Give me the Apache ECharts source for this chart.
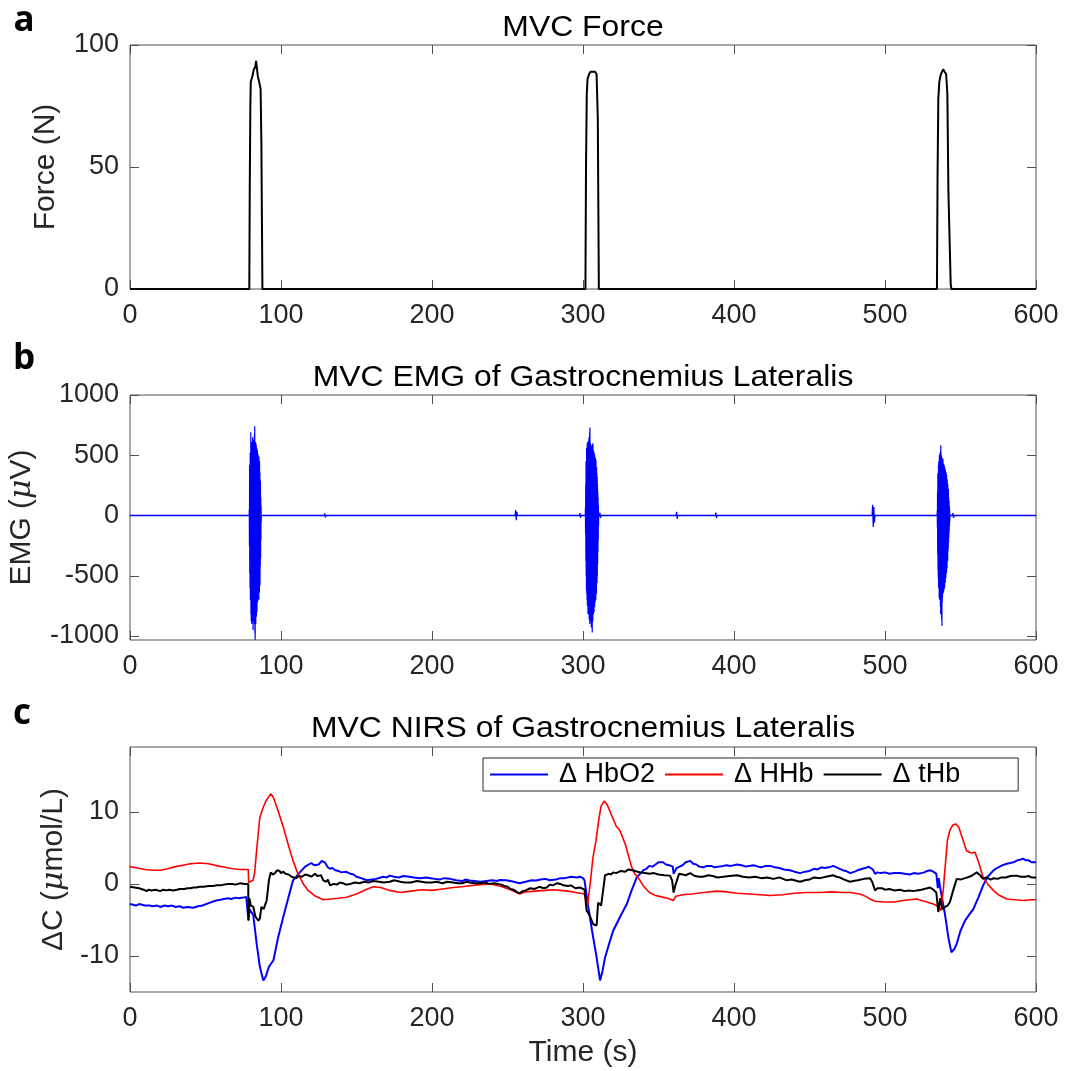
<!DOCTYPE html>
<html><head><meta charset="utf-8">
<script src="https://cdn.jsdelivr.net/npm/echarts@6/dist/echarts.min.js"></script>
<style>html,body{margin:0;padding:0;background:#fff}#c{width:1072px;height:1071px}</style>
</head><body><div id="c"></div>
<script>
// ---------- tick labels ----------
const xTicks = [0,100,200,300,400,500,600];
const forceTicks = [0,50,100];
const emgTicks = [-1000,-500,0,500,1000];
const nirsTicks = [-10,0,10];

// ---------- titles / names ----------
const panelTitles = ['MVC Force','MVC EMG of Gastrocnemius Lateralis','MVC NIRS of Gastrocnemius Lateralis'];
const panelLetters = ['a','b','c'];
const seriesNames = ['\u0394 HbO2','\u0394 HHb','\u0394 tHb'];

// ---------- force (N) : [time s, value] ----------
const forceData = [[0,0],[79,0],[79.3,40],[79.7,75],[80,85],[81,87],[82,90],[83,91],[83.5,93.5],[84.3,93],[84.7,87],[85.5,85],[86.5,82],[87,60],[87.7,0],
[301.6,0],[302,50],[302.5,80],[303,86],[304,88],[305,89],[308,89],[309,88],[309.8,70],[310.5,0],
[534.4,0],[534.8,45],[535.3,78],[536,85],[537,88],[538.5,90],[539.5,89.5],[540.5,88],[541.3,80],[542,40],[543.5,2],[544,0],[600,0]];

// ---------- EMG (uV) ----------
const emgBaseline = [[0,0],[600,0]];
const emgSpikes = [
  [[128.6,0],[129,18],[129.4,-15],[129.8,0]],
  [[255,0],[255.4,45],[255.8,-40],[256.2,30],[256.6,0]],
  [[297.6,0],[298,20],[298.4,-18],[298.8,0]],
  [[310.8,0],[311.2,25],[311.6,-20],[312,0]],
  [[361.6,0],[362,30],[362.4,-28],[362.8,0]],
  [[387.6,0],[388,25],[388.4,-20],[388.8,0]],
  [[491.4,0],[491.8,90],[492.2,-95],[492.6,70],[493,-60],[493.4,0]],
  [[544.6,0],[545,20],[545.4,-20],[545.8,0]]
];
const emgBurst1 = [[78.9,0],[79.0,50],[79.1,-250],[79.2,420],[79.3,-480],[79.4,300],[79.5,-600],[79.6,520],[79.7,-700],[79.8,450],[79.9,-560],[80.0,690],[80.1,-820],[80.2,560],[80.3,-880],[80.4,600],[80.5,-640],[80.6,480],[80.7,-900],[80.8,610],[80.9,-760],[81.0,560],[81.1,-870],[81.2,650],[81.3,-700],[81.4,520],[81.5,-950],[81.6,630],[81.7,-780],[81.8,590],[81.9,-880],[82.0,610],[82.1,-720],[82.2,540],[82.3,-860],[82.4,680],[82.5,-900],[82.6,740],[82.7,-980],[82.8,560],[82.9,-1030],[83.0,600],[83.1,-820],[83.2,610],[83.3,-900],[83.4,520],[83.5,-760],[83.6,590],[83.7,-840],[83.8,500],[83.9,-680],[84.0,560],[84.1,-800],[84.2,470],[84.3,-650],[84.4,540],[84.5,-720],[84.6,430],[84.7,-600],[84.8,510],[84.9,-690],[85.0,480],[85.1,-620],[85.2,420],[85.3,-700],[85.4,490],[85.5,-560],[85.6,380],[85.7,-640],[85.8,450],[85.9,-500],[86.0,360],[86.1,-580],[86.2,300],[86.3,-420],[86.4,280],[86.5,-350],[86.6,150],[86.7,-200],[86.8,80],[86.9,-60],[87.0,0]];
const emgBurst2 = [[301.5,0],[301.6,60],[301.7,-150],[301.8,260],[301.9,-380],[302.0,450],[302.1,-500],[302.2,380],[302.3,-620],[302.4,560],[302.5,-650],[302.6,470],[302.7,-700],[302.8,600],[302.9,-750],[303.0,520],[303.1,-680],[303.2,610],[303.3,-820],[303.4,540],[303.5,-760],[303.6,620],[303.7,-800],[303.8,560],[303.9,-720],[304.0,650],[304.1,-860],[304.2,580],[304.3,-780],[304.4,690],[304.5,-900],[304.6,730],[304.7,-820],[304.8,560],[304.9,-850],[305.0,600],[305.1,-780],[305.2,540],[305.3,-880],[305.4,580],[305.5,-930],[305.6,520],[305.7,-800],[305.8,560],[305.9,-900],[306.0,500],[306.1,-970],[306.2,590],[306.3,-820],[306.4,540],[306.5,-880],[306.6,600],[306.7,-760],[306.8,510],[306.9,-820],[307.0,540],[307.1,-740],[307.2,480],[307.3,-800],[307.4,520],[307.5,-700],[307.6,470],[307.7,-760],[307.8,500],[307.9,-680],[308.0,440],[308.1,-720],[308.2,480],[308.3,-640],[308.4,420],[308.5,-700],[308.6,460],[308.7,-600],[308.8,380],[308.9,-650],[309.0,400],[309.1,-540],[309.2,350],[309.3,-560],[309.4,320],[309.5,-500],[309.6,260],[309.7,-400],[309.8,200],[309.9,-300],[310.0,150],[310.1,-200],[310.2,80],[310.3,-90],[310.4,0]];
const emgBurst3 = [[534.5,0],[534.6,40],[534.7,-100],[534.8,200],[534.9,-320],[535.0,350],[535.1,-450],[535.2,300],[535.3,-520],[535.4,420],[535.5,-600],[535.6,450],[535.7,-560],[535.8,380],[535.9,-680],[536.0,500],[536.1,-700],[536.2,420],[536.3,-620],[536.4,520],[536.5,-650],[536.6,480],[536.7,-760],[536.8,540],[536.9,-820],[537.0,583],[537.1,-700],[537.2,460],[537.3,-780],[537.4,500],[537.5,-860],[537.6,440],[537.7,-917],[537.8,480],[537.9,-720],[538.0,460],[538.1,-680],[538.2,420],[538.3,-650],[538.4,470],[538.5,-600],[538.6,410],[538.7,-640],[538.8,430],[538.9,-580],[539.0,380],[539.1,-620],[539.2,420],[539.3,-560],[539.4,360],[539.5,-600],[539.6,400],[539.7,-520],[539.8,340],[539.9,-560],[540.0,380],[540.1,-500],[540.2,320],[540.3,-520],[540.4,360],[540.5,-460],[540.6,300],[540.7,-480],[540.8,340],[540.9,-420],[541.0,280],[541.1,-440],[541.2,300],[541.3,-360],[541.4,240],[541.5,-380],[541.6,260],[541.7,-300],[541.8,200],[541.9,-280],[542.0,220],[542.1,-220],[542.2,150],[542.3,-180],[542.4,120],[542.5,-130],[542.6,80],[542.7,-90],[542.8,50],[542.9,-50],[543.0,0]];

// ---------- NIRS (umol/L) ----------
const hbo2 = [[0,-2.8],[2,-2.9],[4,-3.0],[6,-2.8],[8,-2.9],[10,-3.0],[11,-3.2],[13,-3.0],[15,-3.1],[18,-3.0],[20,-3.2],[23,-3.0],[25,-3.1],[28,-3.0],[30,-3.2],[33,-3.1],[35,-3.3],[38,-3.2],[42,-3.3],[45,-3.1],[48,-3.0],[53,-2.6],[57,-2.3],[60,-2.2],[62,-2.1],[65,-2.0],[67,-2.1],[70,-1.9],[72,-2.0],[75,-1.9],[77,-1.8],[78,-1.9],[78.4,-5.0],[79,-3.5],[80,-3.6],[81.6,-4.3],[84,-8.5],[86,-11.5],[88.3,-13.4],[90,-12.8],[92,-11.5],[95,-10.6],[98,-7.5],[101.5,-4.6],[105,-1.8],[108,0.5],[112,1.5],[116,2.4],[120,2.9],[122,2.6],[123,2.8],[125,2.7],[127,3.2],[129,3.0],[130,2.9],[131,2.3],[132.5,2.1],[134,2.2],[136,1.9],[138,1.8],[140,1.6],[143,1.7],[146,1.4],[148,1.3],[150,1.0],[153,0.8],[157,0.5],[160,0.6],[163,0.7],[166,0.9],[168,1.0],[170,0.9],[172,1.15],[175,1.0],[178,0.9],[181,1.1],[185,1.0],[188,0.9],[192,0.8],[196,0.9],[199,0.8],[202,0.7],[205,0.6],[208,0.8],[212,0.7],[216,0.5],[220,0.4],[222,0.6],[225,0.46],[228,0.4],[232,0.3],[236,0.4],[240,0.5],[243,0.4],[245,0.55],[249,0.5],[252,0.4],[254,0.3],[256,0.2],[258,0.1],[260,0.2],[262,0.3],[266,0.5],[269,0.46],[272,0.6],[275,0.7],[278,0.5],[282,0.6],[285,0.8],[288,0.8],[292,1.0],[296,0.9],[298,1.0],[300,0.8],[301,0.5],[303.5,-3.2],[306,-6.5],[309,-10.2],[311.3,-13.4],[313,-12],[314.6,-10.2],[317,-8.5],[320,-6.5],[324,-4.8],[329,-2.8],[332,-1.0],[335.6,0.9],[340,1.9],[342,2.1],[344,2.5],[346,2.4],[348,2.7],[350,3.0],[353,3.0],[355,2.7],[357,2.6],[359.5,2.4],[360,1.4],[361,1.2],[362,2.2],[364,2.4],[366,2.6],[368,3.0],[371,3.2],[373,2.8],[375,2.7],[377,2.4],[379.6,2.3],[382,2.5],[385,2.5],[387,2.3],[390,2.4],[393,2.5],[395,2.6],[398,2.5],[402,2.7],[405,2.6],[408,2.4],[410,2.5],[413,2.6],[416,2.4],[418,2.3],[421,2.5],[424,2.5],[427,2.3],[430,2.2],[433,2.0],[437,1.9],[440,1.7],[443.7,1.5],[447,1.7],[450,1.8],[453,2.1],[455,2.0],[458,2.3],[460,2.2],[463,2.3],[465.6,2.5],[468,2.3],[470,2.1],[472,1.9],[474,1.8],[477,1.5],[480,1.7],[482,1.9],[485,2.1],[487,2.2],[489,2.4],[490,2.4],[492,2.0],[493.4,1.4],[495,1.6],[497,1.5],[500,1.6],[503,1.4],[506,1.5],[510,1.5],[513,1.4],[516.6,1.3],[519,1.5],[522,1.4],[524,1.5],[526,1.6],[528,1.8],[529.8,1.9],[532,1.7],[534,1.4],[535,-0.6],[535.6,0.8],[536.5,-0.5],[539.7,-4.2],[542,-7.5],[544,-9.5],[546,-9.0],[547.5,-8.3],[550,-6.5],[553,-5.1],[556,-4.2],[558.5,-3.5],[562,-1.8],[565,-0.2],[568,1.0],[571.7,1.85],[574,2.2],[576,2.4],[578,2.6],[580.6,2.8],[583,2.9],[585,3.0],[588,3.3],[590,3.4],[591.6,3.5],[593,3.3],[595,3.3],[597,3.0],[598,3.1],[600,3.0]];
const hhb = [[0,2.4],[5,2.2],[10,2.0],[15,1.9],[20,1.9],[25,2.1],[30,2.4],[35,2.6],[40,2.8],[46,2.9],[52,2.8],[58,2.5],[63,2.3],[68,2.1],[73,2.0],[78.3,2.0],[78.6,0.2],[81.5,0.5],[82.5,1.5],[84,5],[86,9.25],[88,10.5],[90,11.5],[93.2,12.5],[95,12],[98,10.2],[101.5,7.9],[105,5.3],[108,3.2],[111,1.5],[114.8,0],[118,-0.9],[122,-1.6],[128,-2.2],[133,-2.1],[138,-2.0],[143.5,-1.85],[150,-1.4],[156,-0.8],[161,-0.4],[166,-0.5],[172,-0.9],[179,-1.2],[186,-1.0],[193,-0.8],[200,-0.9],[207,-0.7],[214,-0.5],[220,-0.4],[225,-0.25],[232,-0.1],[238,0],[245,-0.3],[252,-0.8],[256,-1.2],[258,-1.4],[262,-1.1],[268,-1.0],[275,-0.9],[280,-0.8],[285,-0.9],[290,-1.0],[295,-1.2],[301,-1.4],[303,-3.0],[305,0.5],[306.5,3.5],[308.6,6],[310.5,9],[312,10.8],[314,11.5],[316,11.0],[319,9.5],[322,8.0],[324.5,7.4],[328,5.5],[332,2.5],[334,1.5],[337.7,0.5],[340,-0.3],[344,-1.2],[348,-1.6],[352,-1.8],[356,-2.0],[359.8,-2.3],[361.5,-1.7],[366,-1.5],[372,-1.4],[380,-1.2],[388.5,-1.0],[395,-1.1],[402,-1.3],[410,-1.4],[417,-1.5],[424,-1.6],[432,-1.5],[440,-1.3],[448,-1.2],[457,-1.2],[465,-1.1],[472,-1.2],[477,-1.2],[483.4,-1.4],[488,-1.8],[490,-2.1],[493.4,-2.4],[500,-2.5],[506,-2.5],[512,-2.3],[516,-2.2],[521,-2.1],[526,-2.4],[532,-2.8],[535,-3.1],[537,-3.7],[538.5,-1],[541.3,6],[543,7.5],[545,8.2],[547,8.3],[549,7.8],[551,6.5],[554,4.6],[557,4.3],[559.6,4.4],[562,3.0],[565,0.9],[568,0],[571.7,-0.9],[575,-1.5],[580.6,-2.1],[586,-2.2],[592,-2.3],[597,-2.2],[600,-2.2]];
const thb = [[0,-0.4],[3,-0.5],[6,-0.6],[9,-0.8],[11,-1.0],[12.5,-0.8],[14,-0.9],[17,-0.8],[20,-1.0],[22,-0.8],[24,-0.9],[26,-0.8],[28.7,-0.9],[31,-0.8],[33,-0.7],[36,-0.7],[38,-0.6],[40,-0.6],[42,-0.5],[44,-0.5],[46,-0.4],[49,-0.4],[52,-0.3],[55,-0.3],[57,-0.2],[60,-0.2],[62,-0.1],[65,0],[68,0],[70,-0.1],[73,0.1],[76,0],[78.3,0],[78.5,-5.1],[79,-2.0],[80,-3.0],[81.7,-3.2],[83,-4.5],[85,-5.1],[86,-4.8],[87,-3.2],[88.5,-3.5],[90.5,-2.3],[92,0.5],[93.2,1.6],[94.5,1.3],[96,1.5],[97.5,1.9],[99,1.8],[100,1.5],[101.5,1.7],[103,1.4],[105,1.3],[107,1.0],[110,0.8],[112,1.1],[114,1.0],[116,1.3],[118,1.2],[120,1.0],[122.5,1.4],[124,1.1],[125,0.9],[126.5,1.2],[128,0.5],[130,0.3],[131,0.6],[132.5,-0.2],[135,0],[137,-0.1],[139,0.2],[141,0.1],[143,-0.1],[146,0],[149,0.2],[152,0.1],[155,0.3],[158,0.2],[161,0.4],[165,0.3],[168,0.2],[172,0.3],[175,0.5],[179,0.3],[182,0.2],[186,0.2],[190,0.4],[193,0.3],[196,0.2],[200,0.2],[203,0.3],[207,0.1],[210,0.3],[214,0.2],[217,0.1],[220,0.1],[223,0.3],[225,0.2],[228,0.1],[232,0.1],[235,0.2],[238,0],[241,0.1],[243.7,0],[246,-0.1],[248,-0.3],[250,-0.4],[252,-0.7],[254,-0.8],[256,-1.1],[258,-1.3],[260,-1.0],[262,-0.9],[265,-0.6],[268,-0.7],[271,-0.4],[274,-0.6],[276,-0.5],[278,-0.1],[280,-0.2],[283,0.1],[285,0],[287,-0.2],[290,-0.3],[292,-0.2],[295,-0.6],[298,-0.5],[301,-0.8],[302.4,-3.7],[304,-4.2],[306.8,-5.6],[309,-5.8],[310,-2.6],[312,-3.0],[314.6,1.2],[317,1.4],[318.5,1.3],[320,1.6],[322,1.5],[325,1.8],[328,1.7],[330,2.0],[333,1.9],[336,1.7],[338,1.6],[341,1.5],[344,1.4],[347,1.5],[350,1.3],[354,1.2],[357.6,1.15],[359,0.5],[360,-1.2],[361,-0.3],[363.6,1.4],[366,1.3],[368,1.2],[371,1.5],[374,1.1],[377,1.0],[379.6,1.0],[383,1.2],[386,1.1],[389,0.9],[393,1.0],[397,1.1],[402,1.2],[406,1.0],[410,0.9],[414,1.0],[418,0.8],[422,0.9],[426,0.7],[430,0.9],[434.9,0.5],[438,0.6],[443.7,0.3],[447,0.5],[450,0.6],[453,0.9],[457,0.8],[461,1.0],[465.6,1.2],[468,1.0],[470,0.9],[473,0.6],[476.8,0.3],[479,0.4],[482,0.5],[486,0.7],[490,0.8],[491.5,0.3],[493.4,-0.9],[495,-0.6],[498,-0.6],[500,-0.8],[503,-0.7],[506,-0.9],[510,-0.8],[513,-1.0],[516,-0.9],[519,-1.0],[521,-0.9],[524,-0.8],[526,-0.7],[528,-0.6],[529.8,-0.5],[532,-0.8],[534,-1.2],[535.3,-3.9],[536.5,-2.0],[538,-3.5],[539.7,-3.2],[541.5,-3.0],[543,-2.5],[545,-1.0],[547.5,0.7],[550,0.6],[553,0.8],[556,1.0],[558,1.2],[560.7,1.6],[563,1.2],[565,0.7],[567,0.9],[570,0.6],[572,0.8],[574.6,0.7],[577,0.9],[580,0.9],[583,1.1],[587,1.15],[590,1.0],[593,1.0],[595,1.1],[597,0.9],[600,0.9]];

// ---------- build ----------
// EMG events joined into one polyline with gaps between them (baseline is its own trace)
const emgEvents = [emgBurst1].concat(emgSpikes.slice(0,4).slice(0,2), [emgSpikes[2], emgBurst2, emgSpikes[3]], emgSpikes.slice(4,7), [emgBurst3, emgSpikes[7]]);
const emgEventData = [];
emgEvents.forEach(seg => { seg.forEach(p => emgEventData.push(p)); emgEventData.push([seg[seg.length-1][0], null]); });

const FONT = '"Liberation Sans", Arial, Helvetica, sans-serif';
const TXT = '#262626';
const BOX = '#505050';
const TICK_FS = 27, NAME_FS = 30;

function gridAt(top, h){
  return {left:130, width:906, top:top, height:h, outerBoundsMode:'none',
    show:true, borderColor:BOX, borderWidth:1, backgroundColor:'transparent'};
}
const grids = [gridAt(45,244), gridAt(395,245), gridAt(747,245)];
const plain = v => String(v);

function xPair(gi, name){
  const base = {type:'value', gridIndex:gi, min:xTicks[0], max:xTicks[xTicks.length-1], interval:100,
    axisLine:{show:false, onZero:false},
    axisTick:{show:true, inside:true, length:9, lineStyle:{color:BOX, width:1}},
    splitLine:{show:false}};
  return [
    Object.assign({}, base, {position:'bottom',
      axisLabel:{show:true, margin:13, fontSize:TICK_FS, color:TXT, fontFamily:FONT, formatter:plain},
      name: name || '', nameLocation:'middle', nameGap:46,
      nameTextStyle:{fontSize:NAME_FS, color:TXT, fontFamily:FONT}}),
    Object.assign({}, base, {position:'top', axisLabel:{show:false}})
  ];
}
function yPair(gi, min, max, ticks, name, gap){
  const base = {type:'value', gridIndex:gi, min:min, max:max,
    axisLine:{show:false, onZero:false},
    axisTick:{show:true, inside:true, length:9, customValues:ticks, lineStyle:{color:BOX, width:1}},
    splitLine:{show:false}};
  return [
    Object.assign({}, base, {position:'left',
      axisLabel:{show:true, margin:11, customValues:ticks, fontSize:TICK_FS, color:TXT, fontFamily:FONT, formatter:plain},
      name:name, nameLocation:'middle', nameRotate:90, nameGap:gap,
      nameTextStyle:{fontSize:NAME_FS, color:TXT, fontFamily:FONT,
        rich:{it:{fontSize:NAME_FS, fontStyle:'italic', color:TXT, fontFamily:'"DejaVu Serif", serif'}}}}),
    Object.assign({}, base, {position:'right', axisLabel:{show:false}})
  ];
}

const xAxis = [].concat(xPair(0), xPair(1), xPair(2,'Time (s)'));
const yAxis = [].concat(
  yPair(0, forceTicks[0], forceTicks[forceTicks.length-1], forceTicks, 'Force (N)', 69),
  yPair(1, -1033, 1000, emgTicks, 'EMG ({it|\u03bc}V)', 93),
  yPair(2, -15, 19, nirsTicks, '\u0394C ({it|\u03bc}mol/L)', 57)
);

function lineSeries(name, data, xi, color, width){
  return {type:'line', name:name, data:data, xAxisIndex:xi, yAxisIndex:xi, z:5,
    symbol:'none', showSymbol:false, clip:false, sampling:null, animation:false, connectNulls:false,
    lineStyle:{color:color, width:width}, itemStyle:{color:color}, emphasis:{disabled:true}};
}

const series = [
  lineSeries('force', forceData, 0, '#000000', 2),
  lineSeries('emg baseline', emgBaseline, 2, '#0000ff', 1.4),
  lineSeries('emg', emgEventData, 2, '#0000ff', 1.2),
  lineSeries(seriesNames[0], hbo2, 4, '#0000ff', 2),
  lineSeries(seriesNames[1], hhb, 4, '#ff0000', 1.6),
  lineSeries(seriesNames[2], thb, 4, '#000000', 2)
];

const titleY = [28, 378, 729];
const letterPos = [[24, 21], [24, 359], [22, 714]];
const graphic = [];
panelTitles.forEach((t,i)=>{
  graphic.push({type:'text', x:583, y:titleY[i], silent:true, scaleX:1.1,
    style:{text:t, font:'29px '+FONT, fill:'#000', align:'center', verticalAlign:'middle', textAlign:'center', textVerticalAlign:'middle'}});
});
panelLetters.forEach((t,i)=>{
  graphic.push({type:'text', x:letterPos[i][0], y:letterPos[i][1], silent:true,
    style:{text:t, font:'bold 35px "Open Sans", "Noto Sans", sans-serif', fill:'#000', align:'center', verticalAlign:'middle', textAlign:'center', textVerticalAlign:'middle'}});
});

const chart = echarts.init(document.getElementById('c'), null, {renderer:'canvas'});
chart.setOption({
  backgroundColor:'#ffffff',
  animation:false,
  grid:grids,
  xAxis:xAxis,
  yAxis:yAxis,
  legend:{show:true, data:seriesNames, left:483, top:758, orient:'horizontal',
    icon:'rect', itemWidth:58, itemHeight:2, itemGap:10, padding:[3,58,3,7],
    borderColor:'#262626', borderWidth:1, backgroundColor:'#ffffff', borderRadius:0,
    selectedMode:false, z:10,
    textStyle:{fontSize:27, color:'#000', fontFamily:FONT, padding:[0,0,0,6]}},
  tooltip:{show:false},
  graphic:graphic,
  series:series
});
</script></body></html>
